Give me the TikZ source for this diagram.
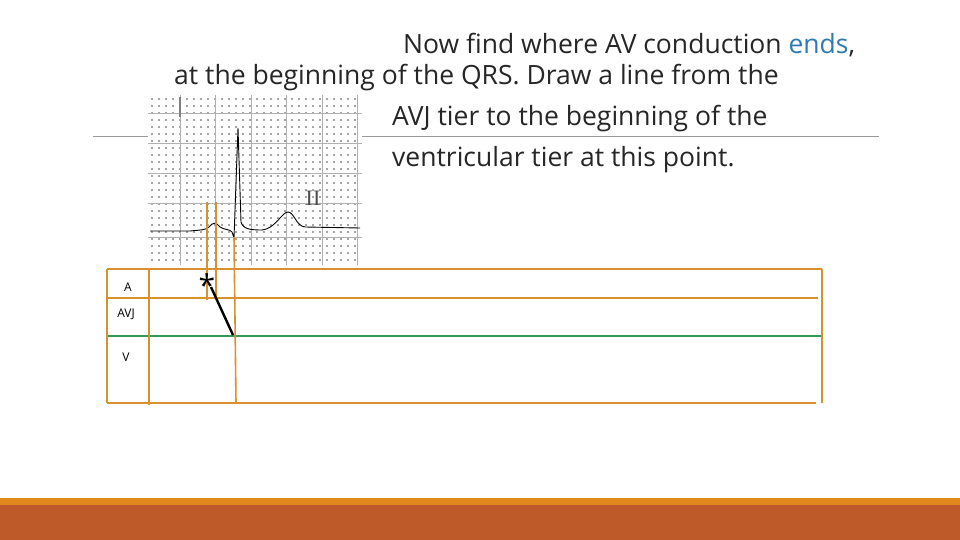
\documentclass[tikz,border=0pt]{standalone}
\usepackage{fontspec}
\setmainfont{Open Sans}
\newfontfamily\serifii{Liberation Serif}
\definecolor{org}{HTML}{D9912E}
\definecolor{grn}{HTML}{2E9B57}
\definecolor{blu}{HTML}{2E7BB0}
\definecolor{bar1}{HTML}{E08A1E}
\definecolor{bar2}{HTML}{BE5A2A}
\begin{document}
\begin{tikzpicture}[x=1pt,y=-1pt,
  tline/.style={org,line width=1.6pt},
  txt/.style={anchor=west,inner sep=0,font=\fontsize{26.5}{30}\selectfont,text=black!85},
  lab/.style={inner sep=0,font=\fontsize{12}{14}\selectfont}]
\useasboundingbox (0,0) rectangle (960,540);
\fill[bar1] (0,498) rectangle (960,505);
\fill[bar2] (0,505) rectangle (960,540);
\draw[gray!80,line width=0.8pt] (93,136) -- (879,136);
% ECG image
\fill[white] (148,95) rectangle (362,265);
\foreach \x in {152,159,...,360} \foreach \y in {99,106,...,262} \fill[black!70] (\x,\y) circle (0.8);
\foreach \x in {180,215,251,286,322,357} \draw[gray!60,line width=0.6pt] (\x,95) -- (\x,265);
\foreach \y in {113,143,173,203,237} \draw[gray!60,line width=0.6pt] (148,\y) -- (362,\y);
\draw[gray,line width=2pt] (180,97) -- (180,117);
\node[inner sep=0,font=\serifii\fontsize{22}{22}\selectfont,text=black!70] (ii) at (313,198) {II};
\draw[black,line width=0.9pt] (150,231) -- (190,231) .. controls (200,230) and (206,230) .. (209,227)
  .. controls (213,222) and (216,222) .. (220,227) .. controls (224,230) and (230,229) .. (232,232)
  -- (234,238) -- (238,128) -- (241,222) .. controls (243,229) and (250,230) .. (262,230)
  .. controls (275,229) and (282,212) .. (288,212) .. controls (294,212) and (296,226) .. (305,227) -- (360,228);
% table
\draw[tline] (107,269) -- (822,269);
\draw[tline] (107,298) -- (818,298);
\draw[grn,line width=1.6pt] (107,336) -- (822,336);
\draw[tline] (107,403) -- (816,403);
\draw[tline] (107,269) -- (107,403);
\draw[tline] (822,269) -- (822,403);
\draw[tline] (149,269) -- (149,405);
\draw[tline,line width=1.2pt] (207,202) -- (207,300);
\draw[tline,line width=1.2pt] (216,202) -- (216,300);
\draw[tline] (234,237) -- (236,403);
\node[lab] (a) at (128,287) {A};
\node[lab] (avj) at (126,314) {AVJ};
\node[lab] (v) at (126,357) {V};
\node[inner sep=0,font=\fontsize{30}{30}\selectfont] (ast) at (207,285) {*};
\coordinate (lend) at (233,335);
\draw[black,line width=2.4pt] (211,287) -- (lend);
% text
\node[txt] (t1) at (403,45) {Now find where AV conduction \textcolor{blu}{ends},};
\node[txt] (t2) at (174,78) {at the beginning of the QRS. Draw a line from the};
\node[txt] (t3) at (392,119) {AVJ tier to the beginning of the};
\node[txt] (t4) at (392,160) {ventricular tier at this point.};
\end{tikzpicture}
\end{document}
